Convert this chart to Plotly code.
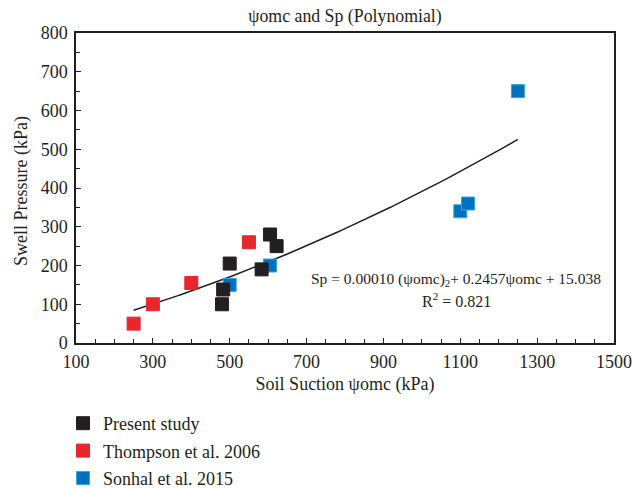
import numpy as np
import plotly.graph_objects as go

# Data
present_x = [480, 483, 500, 583, 605, 622]
present_y = [100, 138, 205, 190, 280, 250]
thompson_x = [250, 300, 400, 550]
thompson_y = [50, 100, 155, 260]
sonhal_x = [500, 605, 1100, 1120, 1250]
sonhal_y = [150, 200, 340, 360, 650]
trend_coef = [0.00013, 0.2457, 15.038]  # as drawn in the figure
trend_range = [250, 1250]

x_ticks = [100, 300, 500, 700, 900, 1100, 1300, 1500]
y_ticks = [0, 100, 200, 300, 400, 500, 600, 700, 800]

FONT = "Liberation Serif"
INK = "#231F20"
fig = go.Figure()

tx = np.linspace(trend_range[0], trend_range[1], 200)
ty = np.polyval(trend_coef, tx)
fig.add_trace(go.Scatter(x=tx, y=ty, mode="lines", line=dict(color=INK, width=1.5),
                         showlegend=False, hoverinfo="skip"))

fig.add_trace(go.Scatter(x=sonhal_x, y=sonhal_y, mode="markers", name="Sonhal et al. 2015",
                         legendgroup="c", legendrank=3,
                         marker=dict(symbol="square", size=13, color="#0070BF",
                                     line=dict(color="#3BA3DD", width=1))))
fig.add_trace(go.Scatter(x=thompson_x, y=thompson_y, mode="markers", name="Thompson et al. 2006",
                         legendgroup="b", legendrank=2,
                         marker=dict(symbol="square", size=13, color="#E8262B",
                                     line=dict(color="#E8262B", width=1))))
fig.add_trace(go.Scatter(x=present_x, y=present_y, mode="markers", name="Present study",
                         legendgroup="a", legendrank=1,
                         marker=dict(symbol="square", size=13, color=INK,
                                     line=dict(color=INK, width=1))))

fig.add_annotation(x=1089, y=165, xref="x", yref="y", showarrow=False,
                   text="Sp = 0.00010 (\u03c8omc)<sub>2</sub>+ 0.2457\u03c8omc + 15.038",
                   font=dict(family=FONT, size=15.5, color=INK))
fig.add_annotation(x=1089, y=111, xref="x", yref="y", showarrow=False,
                   text="R<sup>2</sup> = 0.821",
                   font=dict(family=FONT, size=16, color=INK))
# y-axis title
fig.add_annotation(x=0, y=0.49, xref="paper", yref="paper", xshift=-55, showarrow=False,
                   text="Swell Pressure (kPa)", textangle=-90, xanchor="center", yanchor="middle",
                   font=dict(family=FONT, size=18, color=INK))

axis_common = dict(showgrid=False, zeroline=False, showline=True, linecolor=INK,
                   linewidth=1.5, mirror=True, ticks="inside", ticklen=5,
                   tickcolor=INK, tickfont=dict(family=FONT, size=18, color=INK))

fig.update_xaxes(range=[100, 1500], tickvals=x_ticks, ticktext=[str(v) for v in x_ticks],
                 minor=dict(dtick=50, tick0=100, ticks="inside", ticklen=4, tickcolor=INK),
                 title=dict(text="Soil Suction \u03c8omc (kPa)", font=dict(family=FONT, size=18, color=INK),
                            standoff=6),
                 ticklabelstandoff=2,
                 **axis_common)
fig.update_yaxes(range=[0, 800], tickvals=y_ticks, ticktext=[str(v) for v in y_ticks],
                 minor=dict(dtick=50, tick0=0, ticks="inside", ticklen=4, tickcolor=INK),
                 ticklabelstandoff=3,
                 **axis_common)

fig.update_layout(
    width=633, height=488,
    margin=dict(l=76, r=19, t=33, b=145, autoexpand=False),
    paper_bgcolor="white", plot_bgcolor="white",
    title=dict(text="\u03c8omc and Sp (Polynomial)", x=0.5, xanchor="center", y=1 - 16 / 488, yanchor="middle",
               xref="paper", font=dict(family=FONT, size=17.8, color=INK)),
    legend=dict(xref="container", yref="container", x=63 / 633, y=1 - 405 / 488, xanchor="left", yanchor="top",
                traceorder="grouped", tracegroupgap=1,
                font=dict(family=FONT, size=18, color=INK),
                bgcolor="rgba(0,0,0,0)", itemwidth=30),
)

fig.write_html("out.html", config={"displayModeBar": False},
               post_script="document.body.style.margin='0';document.body.style.overflow='hidden';")
